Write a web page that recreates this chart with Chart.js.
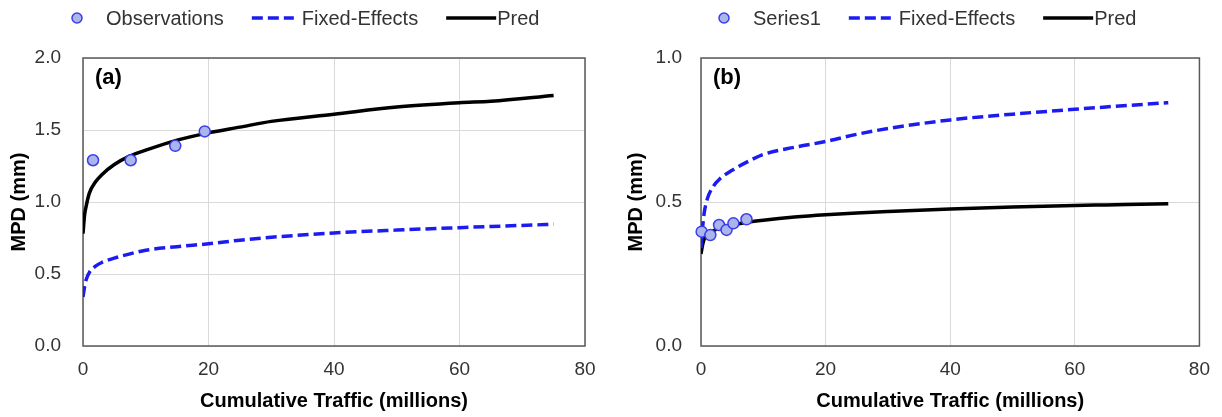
<!DOCTYPE html>
<html>
<head>
<meta charset="utf-8">
<script src="https://cdn.jsdelivr.net/npm/chart.js@4.4.1/dist/chart.umd.min.js"></script>
<style>
  html, body { margin: 0; padding: 0; background: #fff; }
  #wrap { position: relative; width: 1222px; height: 417px; }
  canvas { position: absolute; top: 0; }
  #chartA { left: 0; }
  #chartB { left: 611px; }
</style>
</head>
<body>
<div id="wrap">
  <canvas id="chartA" width="611" height="417"></canvas>
  <canvas id="chartB" width="611" height="417"></canvas>
</div>
<script>
/* ====== Data ====== */
// traffic grid (millions) the model curves are evaluated on
const traffic = [0, 0.25, 0.5, 1, 2, 3, 5, 7.5, 10, 15, 20, 25, 30, 40, 50, 60, 65, 75];
const fixedEffects = [0.34, 0.41, 0.46, 0.51, 0.555, 0.58, 0.61, 0.64, 0.665, 0.69, 0.71, 0.735, 0.755, 0.785, 0.805, 0.822, 0.83, 0.845];
const predA = [0.78, 0.91, 0.97, 1.06, 1.14, 1.19, 1.26, 1.32, 1.36, 1.43, 1.48, 1.52, 1.56, 1.61, 1.66, 1.69, 1.70, 1.74];
const predB = [0.32, 0.35, 0.37, 0.385, 0.40, 0.41, 0.42, 0.43, 0.437, 0.448, 0.456, 0.462, 0.467, 0.476, 0.483, 0.488, 0.49, 0.494];

const obsTrafficA = [1.6, 7.6, 14.7, 19.4];
const obsMpdA = [1.29, 1.29, 1.39, 1.49];
const obsTrafficB = [0.1, 1.5, 2.9, 4.1, 5.2, 7.3];
const obsMpdB = [0.397, 0.385, 0.42, 0.403, 0.426, 0.44];

const xTicks = [0, 20, 40, 60, 80];
const yTicksA = [0, 0.5, 1, 1.5, 2];
const yTicksB = [0, 0.5, 1];

const legendA = ["Observations", "Fixed-Effects", "Pred"];
const legendB = ["Series1", "Fixed-Effects", "Pred"];

/* ====== Look ====== */
const FONT = "'Liberation Sans', Arial, sans-serif";
const TEXT = "#333";
Chart.defaults.font.family = FONT;
Chart.defaults.color = TEXT;

const pts = (xs, ys) => xs.map((x, i) => ({ x, y: ys[i] }));

/* ====== Frame, panel tag and legend row ====== */
const panelDecor = {
  id: "panelDecor",
  beforeDatasetsDraw(chart) {
    // frame goes under the markers so points on the axis stay whole
    const ctx = chart.ctx;
    const { left, top, right, bottom } = chart.chartArea;
    ctx.save();
    ctx.strokeStyle = "#595959";
    ctx.lineWidth = 1.5;
    ctx.strokeRect(left, top, right - left, bottom - top);
    ctx.restore();
  },
  afterDraw(chart, args, opts) {
    const ctx = chart.ctx;
    const { left, top } = chart.chartArea;
    ctx.save();
    ctx.fillStyle = "#000";
    ctx.font = "bold 22px " + FONT;
    ctx.textBaseline = "middle";
    ctx.textAlign = "left";
    ctx.fillText(opts.tag, left + 12, top + 20);

    // legend: symbol, then label, items laid out left to right
    ctx.font = "20px " + FONT;
    let x = opts.legendX;
    const y = opts.legendY;
    chart.data.datasets.forEach(ds => {
      let symW = 42, gap = 8;
      if (!ds.showLine) {
        ctx.beginPath();
        ctx.arc(x + symW / 2, y, 5, 0, Math.PI * 2);
        ctx.fillStyle = ds.backgroundColor;
        ctx.fill();
        ctx.lineWidth = ds.borderWidth;
        ctx.strokeStyle = ds.borderColor;
        ctx.stroke();
      } else {
        if (!ds.borderDash) { symW = 50; gap = 1; }
        ctx.beginPath();
        ctx.setLineDash(ds.borderDash || []);
        ctx.moveTo(x, y);
        ctx.lineTo(x + symW, y);
        ctx.lineWidth = ds.borderWidth;
        ctx.strokeStyle = ds.borderColor;
        ctx.stroke();
        ctx.setLineDash([]);
      }
      x += symW + gap;
      ctx.fillStyle = TEXT;
      ctx.fillText(ds.label, x, y + 1);
      x += ctx.measureText(ds.label).width + 28;
    });
    ctx.restore();
  }
};

function makeChart(canvasId, cfg) {
  return new Chart(document.getElementById(canvasId), {
    type: "scatter",
    data: {
      datasets: [
        {
          label: cfg.labels[0],
          data: pts(cfg.obsX, cfg.obsY),
          showLine: false,
          clip: false,
          pointRadius: 5.5,
          pointHoverRadius: 5.5,
          backgroundColor: "#aab6ea",
          borderColor: "#3c3cee",
          borderWidth: 1.5
        },
        {
          label: cfg.labels[1],
          data: pts(traffic, fixedEffects),
          showLine: true,
          pointRadius: 0,
          borderColor: "#1c1cf0",
          borderWidth: 3.5,
          borderDash: [11, 5],
          cubicInterpolationMode: "monotone"
        },
        {
          label: cfg.labels[2],
          data: pts(traffic, cfg.pred),
          showLine: true,
          pointRadius: 0,
          borderColor: "#000",
          borderWidth: 3.5,
          cubicInterpolationMode: "monotone"
        }
      ]
    },
    options: {
      responsive: false,
      animation: false,
      layout: { padding: { left: 0, top: 58, right: cfg.padRight, bottom: 0 } },
      plugins: {
        legend: { display: false },
        tooltip: { enabled: false },
        panelDecor: { tag: cfg.tag, legendX: cfg.legendX, legendY: 18 }
      },
      scales: {
        x: {
          type: "linear",
          min: 0, max: 80,
          afterBuildTicks: s => { s.ticks = xTicks.map(v => ({ value: v })); },
          afterFit: s => { s.height = 71; },
          grid: { color: "#d9d9d9", lineWidth: 1, drawTicks: false },
          border: { display: false },
          ticks: { padding: 12, font: { size: 19 }, color: TEXT },
          title: {
            display: true,
            text: "Cumulative Traffic (millions)",
            color: "#000",
            font: { size: 20, weight: "bold" },
            padding: { top: 0, bottom: 4 }
          }
        },
        y: {
          type: "linear",
          min: 0, max: cfg.yTicks[cfg.yTicks.length - 1],
          afterBuildTicks: s => { s.ticks = cfg.yTicks.map(v => ({ value: v })); },
          afterFit: s => { s.width = cfg.yWidth; },
          grid: { color: "#d9d9d9", lineWidth: 1, drawTicks: false },
          border: { display: false },
          ticks: {
            padding: cfg.tickPad,
            font: { size: 19 },
            color: TEXT,
            callback: v => v.toFixed(1)
          },
          title: {
            display: true,
            text: "MPD (mm)",
            color: "#000",
            font: { size: 20, weight: "bold" },
            padding: { top: cfg.titlePad, bottom: 0 }
          }
        }
      }
    },
    plugins: [panelDecor]
  });
}

makeChart("chartA", {
  tag: "(a)", labels: legendA,
  obsX: obsTrafficA, obsY: obsMpdA, pred: predA, yTicks: yTicksA,
  yWidth: 83, tickPad: 22, titlePad: 7, padRight: 26, legendX: 56
});

makeChart("chartB", {
  tag: "(b)", labels: legendB,
  obsX: obsTrafficB, obsY: obsMpdB, pred: predB, yTicks: yTicksB,
  yWidth: 90, tickPad: 19, titlePad: 13, padRight: 20, legendX: 92
});
</script>
</body>
</html>
